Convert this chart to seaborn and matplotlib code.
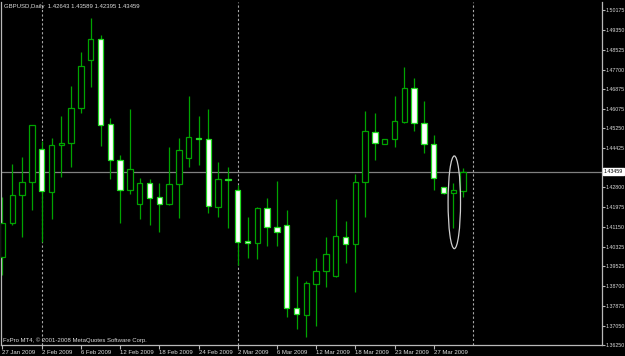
import numpy as np
import pandas as pd
import matplotlib
matplotlib.use("Agg")
import matplotlib.pyplot as plt
from matplotlib.patches import Ellipse
import seaborn as sns

# ---- data ----
opens = [1.39920, 1.41308, 1.42472, 1.43012, 1.44384, 1.42622, 1.44550, 1.44634,
         1.46089, 1.48109, 1.48957, 1.45424, 1.43927, 1.42692, 1.42098, 1.42971,
         1.42389, 1.42098, 1.42954, 1.44010, 1.44854, 1.44800, 1.41998, 1.43162,
         1.42680, 1.40572, 1.40502, 1.41932, 1.41167, 1.41250, 1.37775, 1.37496,
         1.38772, 1.39325, 1.39105, 1.40739, 1.40460, 1.43012, 1.45116, 1.44605,
         1.44800, 1.45532, 1.46920, 1.45465, 1.44617, 1.42817, 1.42555, 1.42643]
highs = [1.42414, 1.43761, 1.44077, 1.45400, 1.44729, 1.44854, 1.45769, 1.47016,
         1.48417, 1.49830, 1.49136, 1.45673, 1.44147, 1.46060, 1.43179, 1.43150,
         1.42971, 1.44492, 1.44842, 1.46612, 1.45769, 1.46060, 1.43856, 1.43649,
         1.42888, 1.41570, 1.41998, 1.42347, 1.43067, 1.41848, 1.39117, 1.38910,
         1.39853, 1.40726, 1.42318, 1.41404, 1.43358, 1.45976, 1.45881, 1.44810,
         1.46600, 1.47793, 1.47336, 1.46392, 1.44966, 1.42830, 1.42996, 1.43589]
lows = [1.39159, 1.41237, 1.40726, 1.41861, 1.40531, 1.41499, 1.43220, 1.43661,
        1.45881, 1.46987, 1.44521, 1.43150, 1.41333, 1.42514, 1.41487, 1.41250,
        1.40959, 1.42069, 1.41516, 1.43661, 1.43732, 1.41749, 1.41583, 1.41113,
        1.39575, 1.39853, 1.39837, 1.40365, 1.40377, 1.37426, 1.36902, 1.36569,
        1.37039, 1.38648, 1.39088, 1.39645, 1.38465, 1.41583, 1.43940, 1.44600,
        1.44492, 1.45490, 1.45145, 1.44218, 1.42680, 1.42540, 1.41125, 1.42395]
closes = [1.41308, 1.42472, 1.43012, 1.45382, 1.42651, 1.44550, 1.44659, 1.46089,
          1.47860, 1.48957, 1.45407, 1.43927, 1.42692, 1.43553, 1.42971, 1.42372,
          1.42110, 1.42929, 1.44343, 1.44883, 1.44800, 1.42015, 1.43162, 1.43121,
          1.40543, 1.40502, 1.41932, 1.41167, 1.40934, 1.37775, 1.37525, 1.38814,
          1.39338, 1.40019, 1.40780, 1.40460, 1.43012, 1.45133, 1.44634, 1.44800,
          1.45548, 1.46945, 1.45490, 1.44617, 1.43179, 1.42555, 1.42680, 1.43459]

date_labels = ["27 Jan 2009", "2 Feb 2009", "6 Feb 2009", "12 Feb 2009",
               "18 Feb 2009", "24 Feb 2009", "2 Mar 2009", "6 Mar 2009",
               "12 Mar 2009", "18 Mar 2009", "23 Mar 2009", "27 Mar 2009"]
date_label_bars = [0, 4, 8, 12, 16, 20, 24, 28, 32, 36, 40, 44]
price_ticks = [1.50175, 1.49350, 1.48525, 1.47700, 1.46875, 1.46075, 1.45250,
               1.44425, 1.43600, 1.42800, 1.41975, 1.41150, 1.40325, 1.39525,
               1.38700, 1.37875, 1.37050, 1.36250]
hidden_price_tick = 1.43600   # covered by the current-price tag in the reference
period_separator_bars = [4, 24, 48]
symbol_title = "GBPUSD,Daily  1.42643 1.43589 1.42395 1.43459"
current_price = 1.43459
footer_text = "FxPro MT4, \u00a9 2001-2008 MetaQuotes Software Corp."
ellipse_bar = 46.1
ellipse_price_range = (1.40254, 1.44108)

# ---- style ----
sns.set_style("dark", {"axes.facecolor": "black", "figure.facecolor": "black",
                       "axes.grid": False})
plt.rcParams['font.family'] = ['Liberation Sans', 'DejaVu Sans']

FS = 4.3
FSY = 3.8
txt_col = "#dcdcdc"
frame_col = "#b8b8b8"
wick_col = "#00a400"
bull_edge = "#00a400"
bear_edge = "#22dd22"

df = pd.DataFrame({"open": opens, "high": highs, "low": lows, "close": closes})
df["bar"] = np.arange(len(df))
df["bull"] = df["close"] >= df["open"]
df["bottom"] = df[["open", "close"]].min(axis=1)
df["height"] = (df["close"] - df["open"]).abs().clip(lower=0.0004)

fig = plt.figure(figsize=(6.25, 3.56), dpi=100, facecolor="black")
ax = fig.add_axes([1.5 / 625, 11 / 356, 600.5 / 625, 343 / 356])
ax.set_facecolor("black")

# separators and price line
for b in period_separator_bars:
    ax.axvline(b, color="#a8a8a8", lw=0.8, ls=(0, (2, 2)), zorder=1)
ax.axhline(current_price, color="#808080", lw=0.9, zorder=1)

# wicks
ax.vlines(df["bar"], df["low"], df["high"], color=wick_col, lw=0.9, zorder=2)

# bodies
bw = 0.56
bull = df[df["bull"]]
bear = df[~df["bull"]]
ax.bar(bull["bar"], bull["height"], bottom=bull["bottom"], width=bw,
       color="black", edgecolor=bull_edge, linewidth=0.9, zorder=3)
ax.bar(bear["bar"], bear["height"], bottom=bear["bottom"], width=bw,
       color="white", edgecolor=bear_edge, linewidth=0.9, zorder=3)

# ellipse annotation
e = Ellipse((ellipse_bar, sum(ellipse_price_range) / 2), width=1.27,
            height=ellipse_price_range[1] - ellipse_price_range[0],
            fill=False, edgecolor="#cfcfcf", lw=0.9, zorder=4)
ax.add_patch(e)

ax.set_xlim(-0.102, 61.17)
ax.set_ylim(1.36249, 1.50508)

# axes / ticks
ax.yaxis.tick_right()
ax.set_yticks(price_ticks)
ax.set_yticklabels(["" if p == hidden_price_tick else f"{p:.5f}" for p in price_ticks])
ax.set_xticks(date_label_bars)
ax.set_xticklabels(date_labels, ha="left")
ax.tick_params(axis="y", which="both", right=True, left=False, length=2.2,
               width=0.8, color=frame_col, labelcolor=txt_col, labelsize=FSY, pad=0.6)
ax.tick_params(axis="x", which="both", bottom=True, length=3, width=0.8,
               color=frame_col, labelcolor=txt_col, labelsize=FS, pad=0.8)
for lab in ax.get_xticklabels():
    lab.set_horizontalalignment("left")

for s in ["left", "bottom", "right"]:
    ax.spines[s].set_visible(True)
    ax.spines[s].set_color(frame_col)
    ax.spines[s].set_linewidth(0.9)
ax.spines["top"].set_visible(False)

# current price tag
ax.annotate(f"{current_price:.5f}", xy=(1.0, current_price),
            xycoords=("axes fraction", "data"), xytext=(1.2, 0),
            textcoords="offset points", va="center", ha="left", fontsize=FSY,
            color="black", zorder=10, annotation_clip=False,
            bbox=dict(boxstyle="square,pad=0.12", fc="white", ec="white"))

fig.text(3.5 / 625, 1 - 6.3 / 356, symbol_title, fontsize=FS, color=txt_col,
         va="center", ha="left")
ax.text(0.003, 0.013, footer_text, transform=ax.transAxes, fontsize=FS,
        color=txt_col, va="center", ha="left")

fig.savefig("out.png", dpi=100, facecolor="black")
